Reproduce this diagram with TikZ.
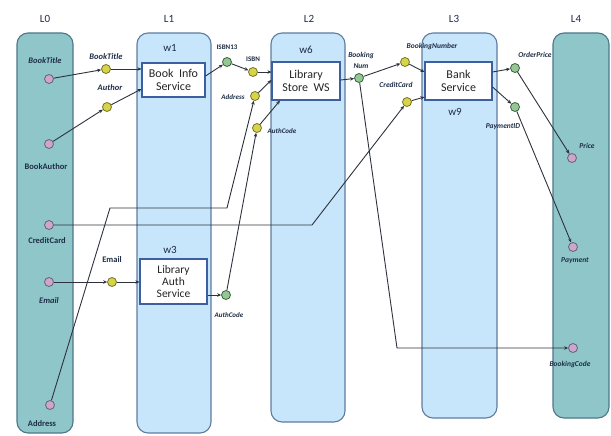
\documentclass[tikz,border=0pt]{standalone}
\usepackage{fontspec}
\setmainfont{Carlito}
\usetikzlibrary{arrows.meta}
\definecolor{teallane}{RGB}{143,198,202}
\definecolor{tealborder}{RGB}{80,118,138}
\definecolor{bluelane}{RGB}{200,230,251}
\definecolor{blueborder}{RGB}{95,125,158}
\definecolor{boxborder}{RGB}{60,95,160}
\definecolor{yport}{RGB}{214,212,72}
\definecolor{yportb}{RGB}{120,115,40}
\definecolor{gport}{RGB}{150,198,150}
\definecolor{gportb}{RGB}{55,100,60}
\definecolor{pport}{RGB}{205,165,205}
\definecolor{pportb}{RGB}{100,100,115}
\definecolor{lbl}{RGB}{30,45,70}
\definecolor{wire}{RGB}{45,50,60}
\tikzset{
  tlane/.style={draw=tealborder, fill=teallane, rounded corners=11pt, line width=1.1pt, inner sep=0pt},
  blane/.style={draw=blueborder, fill=bluelane, rounded corners=11pt, line width=1.1pt, inner sep=0pt},
  svc/.style={draw=boxborder, fill=white, line width=1.1pt, inner sep=0pt, align=center, font=\fontsize{12}{12.5}\selectfont, text=black!85},
  yp/.style={circle, draw=yportb, fill=yport, line width=0.8pt, minimum size=9pt, inner sep=0pt},
  gp/.style={circle, draw=gportb, fill=gport, line width=0.8pt, minimum size=9pt, inner sep=0pt},
  pp/.style={circle, draw=pportb, fill=pport, line width=0.8pt, minimum size=9pt, inner sep=0pt},
  plbl/.style={font=\fontsize{8.5}{9}\selectfont\bfseries\itshape, text=lbl, inner sep=0pt, align=center},
  ulbl/.style={font=\fontsize{8.5}{9}\selectfont\bfseries, text=lbl, inner sep=0pt, align=center},
  ttl/.style={font=\fontsize{11}{11}\selectfont, text=lbl, inner sep=0pt},
  wir/.style={draw=wire, line width=0.9pt, -{Stealth[length=4pt,width=3.5pt]}},
}
\begin{document}
\begin{tikzpicture}[x=1pt,y=-1pt]
\useasboundingbox (0,0) rectangle (611,436);
% lanes
\node[tlane, minimum width=56pt, minimum height=400pt] (L0) at (45,233) {};
\node[blane, minimum width=74pt, minimum height=400pt] (L1) at (174,233) {};
\node[blane, minimum width=74pt, minimum height=389pt] (L2) at (308,227.5) {};
\node[blane, minimum width=75pt, minimum height=385pt] (L3) at (459.5,225.5) {};
\node[tlane, minimum width=56pt, minimum height=385pt] (L4) at (581,225.5) {};
\node[ttl] (tL0) at (45,19) {L0};
\node[ttl] (tL1) at (169,19) {L1};
\node[ttl] (tL2) at (309,19) {L2};
\node[ttl] (tL3) at (454,19) {L3};
\node[ttl] (tL4) at (576,19) {L4};
% services
\node[svc, minimum width=63pt, minimum height=34pt] (w1) at (173.5,80) {Book\ \ Info\\Service};
\node[svc, minimum width=68pt, minimum height=38pt] (w6) at (306,81) {Library\\Store\ \ WS};
\node[svc, minimum width=67pt, minimum height=38pt] (w9) at (458.5,81) {Bank\\Service};
\node[svc, minimum width=67pt, minimum height=45pt, font=\fontsize{11.5}{12}\selectfont] (w3) at (173.5,281.5) {Library\\Auth\\Service};
\node[ttl] (tw1) at (170,48) {w1};
\node[ttl] (tw6) at (306,50) {w6};
\node[ttl] (tw9) at (455,112) {w9};
\node[ttl] (tw3) at (170,250) {w3};
% L0 / L4 ports
\node[pp] (pBT) at (49,79) {};
\node[pp] (pBA) at (49,144) {};
\node[pp] (pCC) at (49,225) {};
\node[pp] (pEm) at (49,282) {};
\node[pp] (pAd) at (50,405) {};
\node[pp] (pPr) at (572,158) {};
\node[pp] (pPay) at (573,247) {};
\node[pp] (pBC) at (573,348) {};
% yellow ports
\node[yp] (yBT) at (106,69) {};
\node[yp] (yAu) at (107,107) {};
\node[yp] (yIS) at (253,72) {};
\node[yp] (yAd) at (255,96) {};
\node[yp] (yAC) at (257,128) {};
\node[yp] (yEm) at (112,282) {};
\node[yp] (yBN) at (405,62) {};
\node[yp] (yCC) at (407,102) {};
% green ports
\node[gp] (gI13) at (227,62) {};
\node[gp] (gBN) at (359,78) {};
\node[gp] (gOP) at (515,68) {};
\node[gp] (gPI) at (515,107) {};
\node[gp] (gAC) at (226,295) {};
% labels
\node[plbl] (lBT0) at (45,61) {BookTitle};
\node[ulbl] (lBA0) at (46,167) {BookAuthor};
\node[ulbl] (lCC0) at (47,241) {CreditCard};
\node[plbl] (lEm0) at (49,301) {Email};
\node[ulbl] (lAd0) at (42,424) {Address};
\node[plbl] (lBT) at (106,57) {BookTitle};
\node[plbl] (lAu) at (110,88) {Author};
\node[plbl, font=\fontsize{7}{7}\selectfont\bfseries] (lI13) at (227,47) {ISBN13};
\node[plbl, font=\fontsize{7}{7}\selectfont\bfseries] (lIS) at (253,59) {ISBN};
\node[plbl, font=\fontsize{7}{7}\selectfont\bfseries\itshape] (lAd) at (233,97) {Address};
\node[plbl, font=\fontsize{7}{7}\selectfont\bfseries\itshape] (lAC) at (282,131) {AuthCode};
\node[plbl, font=\fontsize{7}{7}\selectfont\bfseries\itshape] (lACg) at (229,315) {AuthCode};
\node[ulbl] (lEm) at (112,260) {Email};
\node[plbl, font=\fontsize{7.5}{8}\selectfont\bfseries\itshape] (lBN) at (361,60) {Booking\\[3pt]Num};
\node[plbl, font=\fontsize{7.5}{8}\selectfont\bfseries\itshape] (lBNum) at (432,47) {BookingNumber};
\node[plbl, font=\fontsize{7.5}{8}\selectfont\bfseries\itshape] (lCC) at (396,85) {CreditCard};
\node[plbl, font=\fontsize{7.5}{8}\selectfont\bfseries\itshape] (lOP) at (535,55) {OrderPrice};
\node[plbl, font=\fontsize{7.5}{8}\selectfont\bfseries\itshape] (lPI) at (503,127) {PaymentID};
\node[plbl, font=\fontsize{7.5}{8}\selectfont\bfseries\itshape] (lPr) at (587,146) {Price};
\node[plbl, font=\fontsize{7.5}{8}\selectfont\bfseries\itshape] (lPay) at (575,261) {Payment};
\node[plbl, font=\fontsize{7.5}{8}\selectfont\bfseries\itshape] (lBC) at (570,364) {BookingCode};
% bend coordinates
\coordinate (c1) at (110,208);
\coordinate (c2) at (227,208);
\coordinate (c3) at (312,225);
\coordinate (c4) at (397,348);
% connectors
\draw[wir] (pBT) -- (yBT);
\draw[wir] (yBT) -- (w1.west |- yBT);
\draw[wir] (pBA) -- (yAu);
\draw[wir] (yAu) -- ([yshift=-9pt]w1.west);
\draw[wir] ([yshift=4pt]w1.east) -- (gI13);
\draw[wir] (gI13) -- (yIS);
\draw[wir] (yIS) -- (w6.west |- yIS);
\draw[wir] (yAd) -- ([yshift=1pt]w6.west);
\draw[wir] (yAC) -- ([xshift=-26pt]w6.south);
\draw[wir] (gAC) -- (yAC);
\draw[wir] (w3.east |- gAC) -- (gAC);
\draw[wir] (pEm) -- (yEm);
\draw[wir] (yEm) -- (w3.west |- yEm);
\draw[wir] (pAd) -- (c1) -- (c2) -- (yAd);
\draw[wir] (pCC) -- (c3) -- (yCC);
\draw[wir] (yCC) -- ([yshift=-16pt]w9.west);
\draw[wir] ([yshift=1pt]w6.east) -- (gBN);
\draw[wir] (gBN) -- (yBN);
\draw[wir] (yBN) -- ([yshift=9pt]w9.west);
\draw[wir] (gBN) -- (c4) -- (pBC);
\draw[wir] ([yshift=9pt]w9.east) -- (gOP);
\draw[wir] (gOP) -- (pPr);
\draw[wir] ([yshift=-6pt]w9.east) -- (gPI);
\draw[wir] (gPI) -- (pPay);
\end{tikzpicture}
\end{document}
